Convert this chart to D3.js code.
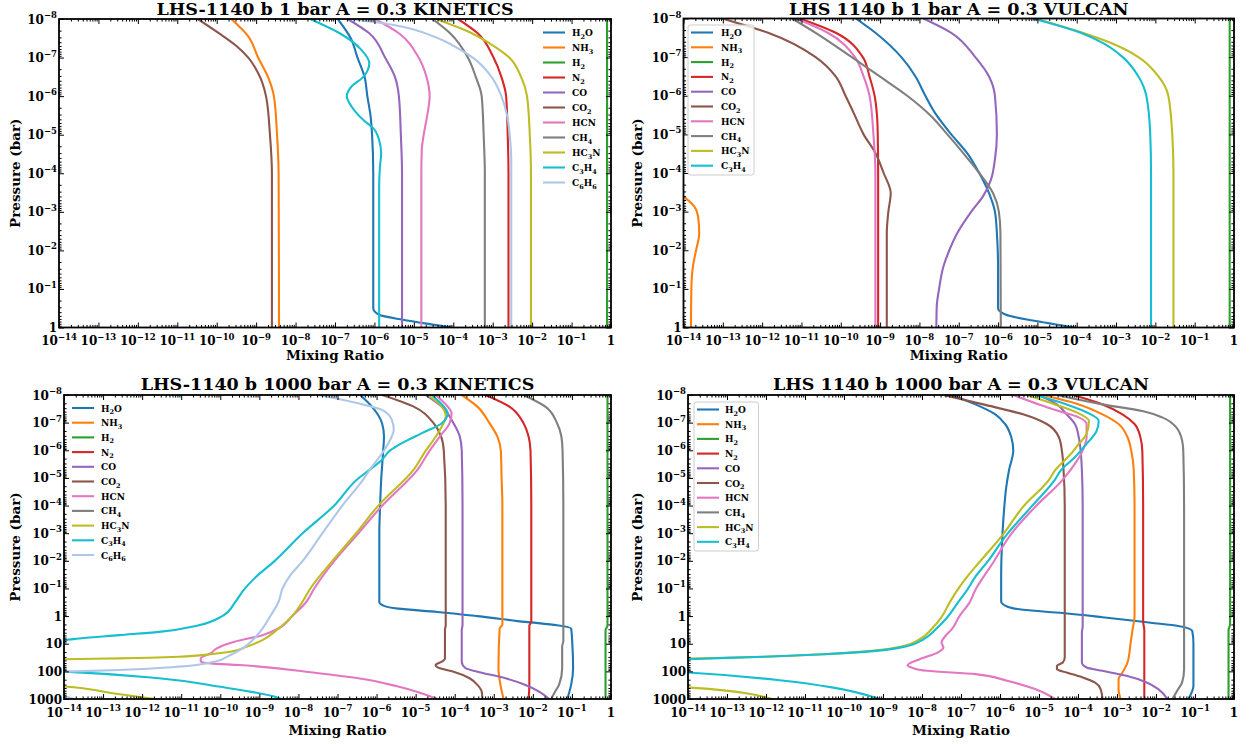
<!DOCTYPE html>
<html><head><meta charset="utf-8">
<script src="https://cdn.jsdelivr.net/npm/d3@7"></script>
<style>
body{margin:0;background:#fff}
svg{display:block}
text{font-family:"DejaVu Serif",serif;font-weight:bold;fill:#000}
</style>
</head><body>
<svg id="c" width="1249" height="744"></svg>
<script>
// ---------- DATA: [log10 mixing ratio, log10 pressure(bar)] ----------
const species = ["H2O","NH3","H2","N2","CO","CO2","HCN","CH4","HC3N","C3H4","C6H6"];
const colors  = ["#1f77b4","#ff7f0e","#2ca02c","#d62728","#9467bd","#8c564b","#e377c2","#7f7f7f","#bcbd22","#17becf","#aec7e8"];
const xTickExps = [-14,-13,-12,-11,-10,-9,-8,-7,-6,-5,-4,-3,-2,-1,0];
const yTickExps1 = [-8,-7,-6,-5,-4,-3,-2,-1,0];
const yTickExps1000 = [-8,-7,-6,-5,-4,-3,-2,-1,0,1,2,3];
const titles = ["LHS-1140 b 1 bar A = 0.3 KINETICS","LHS 1140 b 1 bar A = 0.3 VULCAN",
                "LHS-1140 b 1000 bar A = 0.3 KINETICS","LHS 1140 b 1000 bar A = 0.3 VULCAN"];

// Panel 1: KINETICS 1 bar
const k1_H2O  = [[-6.93,-8],[-6.6,-7.5],[-6.43,-7],[-6.25,-6.5],[-6.18,-6],[-6.1,-5.5],[-6.06,-5],[-6.03,-4],[-6.03,-2],[-6.03,-0.5],[-5.88,-0.33],[-5.28,-0.2],[-4.48,-0.07],[-4.03,0]];
const k1_NH3  = [[-9.63,-8],[-9.2,-7.55],[-8.95,-7],[-8.7,-6.5],[-8.55,-6],[-8.47,-5],[-8.43,-4],[-8.42,0]];
const k1_H2   = [[-0.1,-8],[-0.1,0]];
const k1_N2   = [[-3.88,-8],[-3.38,-7.63],[-2.98,-7],[-2.78,-6.5],[-2.66,-6],[-2.62,-5],[-2.6,-4],[-2.6,0]];
const k1_CO   = [[-6.68,-8],[-6.13,-7.63],[-5.73,-7],[-5.48,-6.5],[-5.38,-6],[-5.33,-5],[-5.3,-4],[-5.3,0]];
const k1_CO2  = [[-10.48,-8],[-9.9,-7.6],[-9.5,-7.3],[-9.2,-7],[-8.95,-6.6],[-8.75,-6],[-8.65,-5],[-8.6,-4],[-8.6,0]];
const k1_HCN  = [[-5.98,-8],[-5.38,-7.63],[-4.88,-7],[-4.68,-6.5],[-4.6,-6],[-4.66,-5.5],[-4.75,-5],[-4.8,-4.6],[-4.81,-4],[-4.81,0]];
const k1_CH4  = [[-4.53,-8],[-4.08,-7.63],[-3.63,-7],[-3.43,-6.5],[-3.28,-6],[-3.23,-5],[-3.2,-4],[-3.2,0]];
const k1_HC3N = [[-4.43,-8],[-3.53,-7.63],[-3.08,-7.37],[-2.58,-7],[-2.28,-6.5],[-2.13,-6],[-2.06,-5],[-2.03,-4],[-2.03,0]];
const k1_C3H4 = [[-7.63,-8],[-6.88,-7.63],[-6.33,-7.2],[-6.13,-6.85],[-6.28,-6.5],[-6.58,-6.25],[-6.7,-6],[-6.58,-5.73],[-6.28,-5.38],[-6.03,-5.17],[-5.88,-4.86],[-5.83,-4.52],[-5.86,-4.17],[-5.88,-3.65],[-5.88,0]];
const k1_C6H6 = [[-6.6,-8],[-5.48,-7.84],[-4.48,-7.54],[-3.88,-7.24],[-3.48,-6.98],[-3.03,-6.5],[-2.78,-6],[-2.63,-5.47],[-2.57,-5],[-2.53,-4.3],[-2.53,0]];

// Panel 2: VULCAN 1 bar
const v1_H2O  = [[-9.62,-8],[-9.12,-7.63],[-8.46,-7],[-8.1,-6.5],[-7.85,-6],[-7.6,-5.55],[-7.19,-5],[-6.79,-4.52],[-6.48,-4],[-6.23,-3.48],[-6.08,-3],[-6.03,-2.44],[-6.0,-1.5],[-6.0,-0.5],[-5.8,-0.33],[-5.0,-0.16],[-4.05,0]];
const v1_NH3  = [[-14.2,-3.6],[-14,-3.4],[-13.73,-3.14],[-13.63,-2.88],[-13.6,-2.44],[-13.68,-2.0],[-13.76,-1.58],[-13.8,-1.0],[-13.81,0]];
const v1_H2   = [[-0.11,-8],[-0.11,0]];
const v1_N2   = [[-11.04,-8],[-10.13,-7.63],[-9.44,-7],[-9.27,-6.5],[-9.14,-6],[-9.08,-5.5],[-9.06,-5],[-9.05,-4],[-9.05,0]];
const v1_CO   = [[-7.9,-8],[-7.19,-7.63],[-6.58,-7],[-6.23,-6.5],[-6.08,-6],[-6.03,-5],[-6.08,-4.35],[-6.18,-3.83],[-6.38,-3.4],[-6.68,-3],[-7.04,-2.44],[-7.24,-2],[-7.39,-1.58],[-7.5,-1],[-7.56,-0.54],[-7.57,0]];
const v1_CO2  = [[-13.02,-8],[-11.85,-7.63],[-10.64,-7],[-10.13,-6.5],[-9.88,-6],[-9.67,-5.55],[-9.42,-5],[-9.12,-4.52],[-8.91,-4],[-8.73,-3.48],[-8.79,-3],[-8.83,-2.44],[-8.83,0]];
const v1_HCN  = [[-11.14,-8],[-10.33,-7.63],[-9.64,-7],[-9.42,-6.5],[-9.27,-6],[-9.17,-5],[-9.12,-4],[-9.12,0]];
const v1_CH4  = [[-11.24,-8],[-10.64,-7.63],[-9.72,-7],[-9.01,-6.5],[-8.31,-6],[-7.7,-5.47],[-7.29,-5],[-6.89,-4.52],[-6.48,-4],[-6.13,-3.48],[-5.98,-3],[-5.94,-2.44],[-5.93,0]];
const v1_HC3N = [[-5.06,-8],[-3.85,-7.63],[-3.14,-7.37],[-2.43,-7],[-1.92,-6.5],[-1.67,-6],[-1.57,-5],[-1.54,-4],[-1.54,0]];
const v1_C3H4 = [[-5.11,-8],[-3.9,-7.63],[-3.34,-7.37],[-2.83,-7],[-2.43,-6.5],[-2.23,-6],[-2.13,-5],[-2.11,-4],[-2.11,0]];

// Panel 3: KINETICS 1000 bar
const k3_H2O  = [[-6.42,-8],[-6.12,-7.58],[-5.86,-6.98],[-5.81,-6.5],[-5.83,-5.99],[-5.88,-4.98],[-5.91,-3.99],[-5.93,-2.99],[-5.93,-0.51],[-5.81,-0.37],[-5.45,-0.27],[-4.44,-0.15],[-3.42,0],[-2.19,0.21],[-1.38,0.33],[-1.02,0.45],[-0.99,1],[-0.97,1.89],[-1.02,2.49],[-1.12,3]];
const k3_NH3  = [[-3.82,-8],[-3.42,-7.58],[-3.11,-6.98],[-2.91,-6.5],[-2.82,-5.99],[-2.8,-4.98],[-2.78,-4],[-2.78,0.3],[-2.85,0.45],[-2.88,1.89],[-2.83,2.49],[-2.75,3]];
const k3_H2   = [[-0.09,-8],[-0.09,0.35],[-0.14,0.5],[-0.14,3]];
const k3_N2   = [[-3.21,-8],[-2.6,-7.58],[-2.24,-6.98],[-2.11,-6.5],[-2.06,-5.99],[-2.04,-4],[-2.04,0.2],[-2.09,0.35],[-2.09,2.5],[-2.11,3]];
const k3_CO   = [[-4.74,-8],[-4.33,-7.58],[-4.03,-6.98],[-3.87,-6.5],[-3.82,-5.99],[-3.8,-4],[-3.8,0.33],[-3.82,0.5],[-3.82,1.65],[-3.72,1.89],[-3.42,2.01],[-2.7,2.25],[-2.19,2.49],[-1.84,2.73],[-1.58,3]];
const k3_CO2  = [[-5.86,-8],[-5.05,-7.58],[-4.54,-6.98],[-4.35,-6.5],[-4.28,-5.99],[-4.23,-4],[-4.23,0.33],[-4.25,0.5],[-4.25,1.53],[-4.33,1.65],[-4.49,1.77],[-4.38,1.89],[-4.03,2.01],[-3.62,2.25],[-3.42,2.49],[-3.31,2.73],[-3.29,3]];
const k3_HCN  = [[-4.49,-8],[-4.18,-7.58],[-4.08,-7.34],[-4.13,-6.98],[-4.38,-6.5],[-4.64,-5.99],[-4.95,-5.3],[-5.86,-3.99],[-6.47,-2.99],[-7.09,-1.98],[-7.6,-0.99],[-7.8,-0.51],[-8.16,0],[-8.51,0.45],[-8.92,0.69],[-9.64,0.93],[-10.09,1.17],[-10.25,1.35],[-10.5,1.53],[-10.5,1.65],[-10.25,1.71],[-9.53,1.77],[-7.49,2.07],[-6.47,2.25],[-5.45,2.55],[-4.44,3]];
const k3_CH4  = [[-2.24,-8],[-1.68,-7.58],[-1.38,-6.98],[-1.27,-6.5],[-1.24,-5.99],[-1.22,-4],[-1.22,0.9],[-1.25,1.1],[-1.25,1.89],[-1.33,2.49],[-1.43,2.73],[-1.53,3]];
const k3_HC3N = [[-4.69,-8],[-4.33,-7.58],[-4.23,-7.22],[-4.33,-6.86],[-4.54,-6.38],[-4.74,-5.99],[-5.05,-5.3],[-5.96,-3.99],[-6.53,-2.99],[-7.14,-1.98],[-7.7,-0.99],[-7.9,-0.51],[-8.16,0],[-8.51,0.45],[-8.92,0.87],[-9.33,1.11],[-9.74,1.29],[-10.25,1.38],[-11.06,1.47],[-12.59,1.53],[-14,1.56],[-16,1.7],[-16,2.4],[-14,2.55],[-12.8,2.78],[-11.68,3]];
const k3_C3H4 = [[-4.59,-8],[-4.28,-7.58],[-4.18,-7.34],[-4.33,-6.98],[-4.84,-6.62],[-5.35,-6.26],[-5.66,-5.99],[-5.86,-5.66],[-6.17,-5.3],[-6.47,-4.98],[-7.09,-3.99],[-7.9,-2.99],[-8.62,-1.98],[-9.1,-1.4],[-9.4,-0.95],[-9.62,-0.5],[-9.95,0],[-10.55,0.33],[-11.57,0.57],[-12.59,0.69],[-13.61,0.81],[-14,0.87],[-16,1.0],[-16,1.9],[-14,2.01],[-11.57,2.25],[-10.04,2.55],[-8.51,2.96],[-8.45,3]];
const k3_C6H6 = [[-7.49,-8],[-6.47,-7.7],[-5.86,-7.46],[-5.61,-7.1],[-5.56,-6.74],[-5.61,-6.5],[-5.81,-5.99],[-6.17,-5.3],[-6.32,-4.98],[-6.88,-3.99],[-7.39,-2.99],[-7.9,-1.98],[-8.21,-1.47],[-8.41,-0.99],[-8.51,-0.51],[-8.72,0],[-8.92,0.45],[-9.13,0.81],[-9.43,1.17],[-9.74,1.41],[-10.15,1.65],[-11.06,1.83],[-12.59,1.95],[-14,2.01],[-16,2.2],[-16,2.7],[-14,2.9],[-13.77,3]];

// Panel 4: VULCAN 1000 bar
const v3_H2O  = [[-7.24,-8],[-6.63,-7.66],[-6.12,-7.3],[-5.87,-6.95],[-5.71,-6.47],[-5.66,-5.99],[-5.77,-5.27],[-5.84,-4.67],[-5.89,-3.95],[-5.94,-2.87],[-5.97,-1.5],[-5.97,-0.53],[-5.82,-0.35],[-5.41,-0.23],[-4.39,-0.11],[-3.37,0.04],[-2.14,0.24],[-1.43,0.36],[-1.07,0.54],[-1.04,1],[-1.04,2.52],[-1.17,3]];
const v3_NH3  = [[-4.9,-8],[-3.98,-7.66],[-3.37,-7.3],[-2.96,-6.95],[-2.73,-6.47],[-2.63,-5.95],[-2.57,-5.27],[-2.55,-4],[-2.55,0],[-2.6,0.48],[-2.65,0.96],[-2.73,1.68],[-2.86,2.04],[-2.96,2.28],[-2.96,2.64],[-2.91,3]];
const v3_H2   = [[-0.1,-8],[-0.1,0.3],[-0.14,0.5],[-0.14,3]];
const v3_N2   = [[-4.13,-8],[-3.37,-7.66],[-2.86,-7.3],[-2.55,-6.95],[-2.4,-6.47],[-2.35,-5.95],[-2.33,-4],[-2.33,0.2],[-2.3,0.5],[-2.3,3]];
const v3_CO   = [[-5.0,-8],[-4.54,-7.66],[-4.29,-7.3],[-4.08,-6.95],[-3.98,-6.47],[-3.93,-5.95],[-3.9,-5.27],[-3.88,-4],[-3.88,0.36],[-3.9,0.6],[-3.9,1.68],[-3.78,1.86],[-3.37,1.98],[-2.76,2.16],[-2.24,2.4],[-1.94,2.64],[-1.71,3]];
const v3_CO2  = [[-7.45,-8],[-6.43,-7.66],[-5.41,-7.3],[-4.8,-6.95],[-4.49,-6.47],[-4.41,-5.95],[-4.37,-5.27],[-4.34,-4],[-4.34,1.5],[-4.39,1.68],[-4.54,1.8],[-4.54,1.92],[-4.29,2.04],[-3.88,2.22],[-3.57,2.4],[-3.42,2.64],[-3.37,3]];
const v3_HCN  = [[-5.66,-8],[-5.0,-7.66],[-4.49,-7.42],[-3.98,-7.19],[-3.78,-6.95],[-3.78,-6.47],[-3.88,-5.99],[-4.08,-5.51],[-4.39,-4.94],[-5.1,-3.95],[-5.72,-2.96],[-6.17,-1.95],[-6.63,-0.95],[-6.79,-0.47],[-7.04,0.0],[-7.24,0.48],[-7.4,0.72],[-7.5,0.96],[-7.45,1.14],[-7.6,1.32],[-8.06,1.56],[-8.37,1.78],[-8.27,1.86],[-7.86,1.98],[-6.63,2.1],[-5.82,2.34],[-5.1,2.64],[-4.59,3]];
const v3_CH4  = [[-4.54,-8],[-3.37,-7.66],[-2.35,-7.42],[-1.84,-7.19],[-1.48,-6.83],[-1.33,-6.35],[-1.3,-5.95],[-1.28,-4],[-1.28,1.92],[-1.33,2.4],[-1.43,2.64],[-1.58,3]];
const v3_HC3N = [[-5.31,-8],[-4.59,-7.66],[-3.93,-7.3],[-3.72,-7.07],[-3.78,-6.59],[-3.98,-6.23],[-4.13,-5.95],[-4.59,-5.27],[-4.74,-4.94],[-5.41,-3.95],[-5.92,-2.96],[-6.53,-1.95],[-6.84,-1.43],[-7.09,-0.95],[-7.3,-0.47],[-7.5,0.04],[-7.76,0.48],[-8.06,0.84],[-8.47,1.08],[-9.29,1.26],[-10.51,1.38],[-12.04,1.47],[-14,1.54],[-16,1.65],[-16,2.45],[-14,2.58],[-11.84,3]];
const v3_C3H4 = [[-5.1,-8],[-4.29,-7.66],[-3.67,-7.3],[-3.47,-7.07],[-3.52,-6.71],[-3.78,-6.23],[-4.08,-5.75],[-4.44,-5.27],[-4.59,-4.94],[-5.2,-3.95],[-5.82,-2.96],[-6.33,-1.95],[-6.63,-1.43],[-6.84,-0.95],[-7.09,-0.47],[-7.35,0.04],[-7.65,0.48],[-7.96,0.84],[-8.37,1.08],[-9.18,1.26],[-10.51,1.38],[-12.04,1.47],[-14,1.56],[-16,1.7],[-16,1.9],[-14,2.04],[-11.53,2.34],[-10.31,2.58],[-9.08,3]];

const series1 = [k1_H2O,k1_NH3,k1_H2,k1_N2,k1_CO,k1_CO2,k1_HCN,k1_CH4,k1_HC3N,k1_C3H4,k1_C6H6];
const series2 = [v1_H2O,v1_NH3,v1_H2,v1_N2,v1_CO,v1_CO2,v1_HCN,v1_CH4,v1_HC3N,v1_C3H4];
const series3 = [k3_H2O,k3_NH3,k3_H2,k3_N2,k3_CO,k3_CO2,k3_HCN,k3_CH4,k3_HC3N,k3_C3H4,k3_C6H6];
const series4 = [v3_H2O,v3_NH3,v3_H2,v3_N2,v3_CO,v3_CO2,v3_HCN,v3_CH4,v3_HC3N,v3_C3H4];

// ---------- LAYOUT ----------
const panels = [
  {L:59, R:611, T:19, B:327.5, yExps:yTickExps1, title:titles[0], series:series1, titleY:15, xlabY:360, ylabX:20,
   leg:{lx:543, tx:572, y0:32.5, dy:15, frame:null}},
  {L:683.5, R:1234, T:18.5, B:327.5, yExps:yTickExps1, title:titles[1], series:series2, titleY:15, xlabY:360, ylabX:642,
   leg:{lx:691, tx:721, y0:32.5, dy:14.8, frame:[688,25,66,150]}},
  {L:64, R:611, T:395, B:699, yExps:yTickExps1000, title:titles[2], series:series3, titleY:390, xlabY:735, ylabX:20,
   leg:{lx:72, tx:101, y0:408, dy:14.7, frame:null}},
  {L:688, R:1234, T:395, B:699, yExps:yTickExps1000, title:titles[3], series:series4, titleY:390, xlabY:735, ylabX:642,
   leg:{lx:697, tx:725, y0:409.5, dy:14.7, frame:[694,402,64.5,149]}}
];

const svg = d3.select("#c");

function powLabel(t, e, supSize){
  if (e < 0){
    t.append("tspan").text("10");
    t.append("tspan").attr("dy",-5.5).attr("font-size",supSize).text("\u2212"+(-e));
  } else {
    t.text(String(Math.pow(10,e)));
  }
}
function formula(t, name, size){
  let sub = false;
  for (const ch of name){
    const isD = /[0-9]/.test(ch);
    const sp = t.append("tspan").text(ch);
    if (isD && !sub){ sp.attr("dy",2.5).attr("font-size",size*0.72); sub = true; }
    else if (isD && sub){ sp.attr("font-size",size*0.72); }
    else if (!isD && sub){ sp.attr("dy",-2.5); sub = false; }
  }
}

panels.forEach((p, pi) => {
  const yMax = p.yExps[p.yExps.length-1];
  const x = d3.scaleLog().domain([1e-14, 1]).range([p.L, p.R]);
  const y = d3.scaleLog().domain([1e-8, Math.pow(10,yMax)]).range([p.T, p.B]);
  const g = svg.append("g");

  const clipId = "clip"+pi;
  svg.append("clipPath").attr("id",clipId).append("rect")
    .attr("x",p.L).attr("y",p.T).attr("width",p.R-p.L).attr("height",p.B-p.T);

  // lines
  const line = d3.line()
    .x(d => x(Math.pow(10,d[0])))
    .y(d => y(Math.pow(10,d[1])))
    .curve(d3.curveMonotoneY);
  const lg = g.append("g").attr("clip-path","url(#"+clipId+")");
  p.series.forEach((s, i) => {
    lg.append("path").attr("d", line(s)).attr("fill","none")
      .attr("stroke", colors[i]).attr("stroke-width", 2.1)
      .attr("stroke-linejoin","round").attr("stroke-linecap","butt");
  });

  // ticks
  const xMaj = xTickExps.map(e => Math.pow(10,e));
  const xMin = [];
  for (let e=-14; e<0; e++) for (let k=2;k<=9;k++) xMin.push(k*Math.pow(10,e));
  const yMaj = p.yExps.map(e => Math.pow(10,e));
  const yMin = [];
  for (let e=-8; e<yMax; e++) for (let k=2;k<=9;k++) yMin.push(k*Math.pow(10,e));

  const mk = (axisFn, scale, vals, size, tx, ty) => {
    const a = g.append("g").attr("transform","translate("+tx+","+ty+")")
      .call(axisFn(scale).tickValues(vals).tickFormat("").tickSizeInner(size).tickSizeOuter(0));
    a.select(".domain").remove();
    a.selectAll("line").attr("stroke","#000").attr("stroke-width",1);
  };
  mk(d3.axisBottom, x, xMaj, -5, 0, p.B);
  mk(d3.axisBottom, x, xMin, -2.6, 0, p.B);
  mk(d3.axisTop, x, xMaj, -5, 0, p.T);
  mk(d3.axisTop, x, xMin, -2.6, 0, p.T);
  mk(d3.axisLeft, y, yMaj, -5, p.L, 0);
  mk(d3.axisLeft, y, yMin, -2.6, p.L, 0);
  mk(d3.axisRight, y, yMaj, -5, p.R, 0);
  mk(d3.axisRight, y, yMin, -2.6, p.R, 0);

  // frame
  g.append("rect").attr("x",p.L).attr("y",p.T).attr("width",p.R-p.L).attr("height",p.B-p.T)
    .attr("fill","none").attr("stroke","#000").attr("stroke-width",1.8);

  // tick labels
  xTickExps.forEach(e => {
    const t = g.append("text").attr("x", x(Math.pow(10,e))).attr("y", p.B+17.5)
      .attr("text-anchor","middle").attr("font-size",12);
    powLabel(t, e, 8.5);
  });
  p.yExps.forEach(e => {
    const t = g.append("text").attr("x", p.L-2).attr("y", y(Math.pow(10,e))+4.5)
      .attr("text-anchor","end").attr("font-size",12);
    powLabel(t, e, 8.5);
  });

  // axis titles
  g.append("text").attr("x",(p.L+p.R)/2).attr("y",p.xlabY).attr("text-anchor","middle")
    .attr("font-size",13.5).text("Mixing Ratio");
  g.append("text").attr("transform","translate("+p.ylabX+","+((p.T+p.B)/2)+") rotate(-90)")
    .attr("text-anchor","middle").attr("font-size",13.5).text("Pressure (bar)");

  // title
  g.append("text").attr("x",(p.L+p.R)/2).attr("y",p.titleY).attr("text-anchor","middle")
    .attr("font-size",17.5).text(p.title);

  // legend
  const L = p.leg;
  if (L.frame){
    g.append("rect").attr("x",L.frame[0]).attr("y",L.frame[1]).attr("width",L.frame[2]).attr("height",L.frame[3])
      .attr("rx",2.5).attr("fill","#fff").attr("fill-opacity",0.8).attr("stroke","#cccccc").attr("stroke-width",1);
  }
  p.series.forEach((s, i) => {
    const yy = L.y0 + i*L.dy;
    g.append("line").attr("x1",L.lx).attr("x2",L.lx+22).attr("y1",yy).attr("y2",yy)
      .attr("stroke",colors[i]).attr("stroke-width",2.1);
    const t = g.append("text").attr("x",L.tx).attr("y",yy+3.5).attr("font-size",9);
    formula(t, species[i], 9);
  });
});
</script>
</body></html>
